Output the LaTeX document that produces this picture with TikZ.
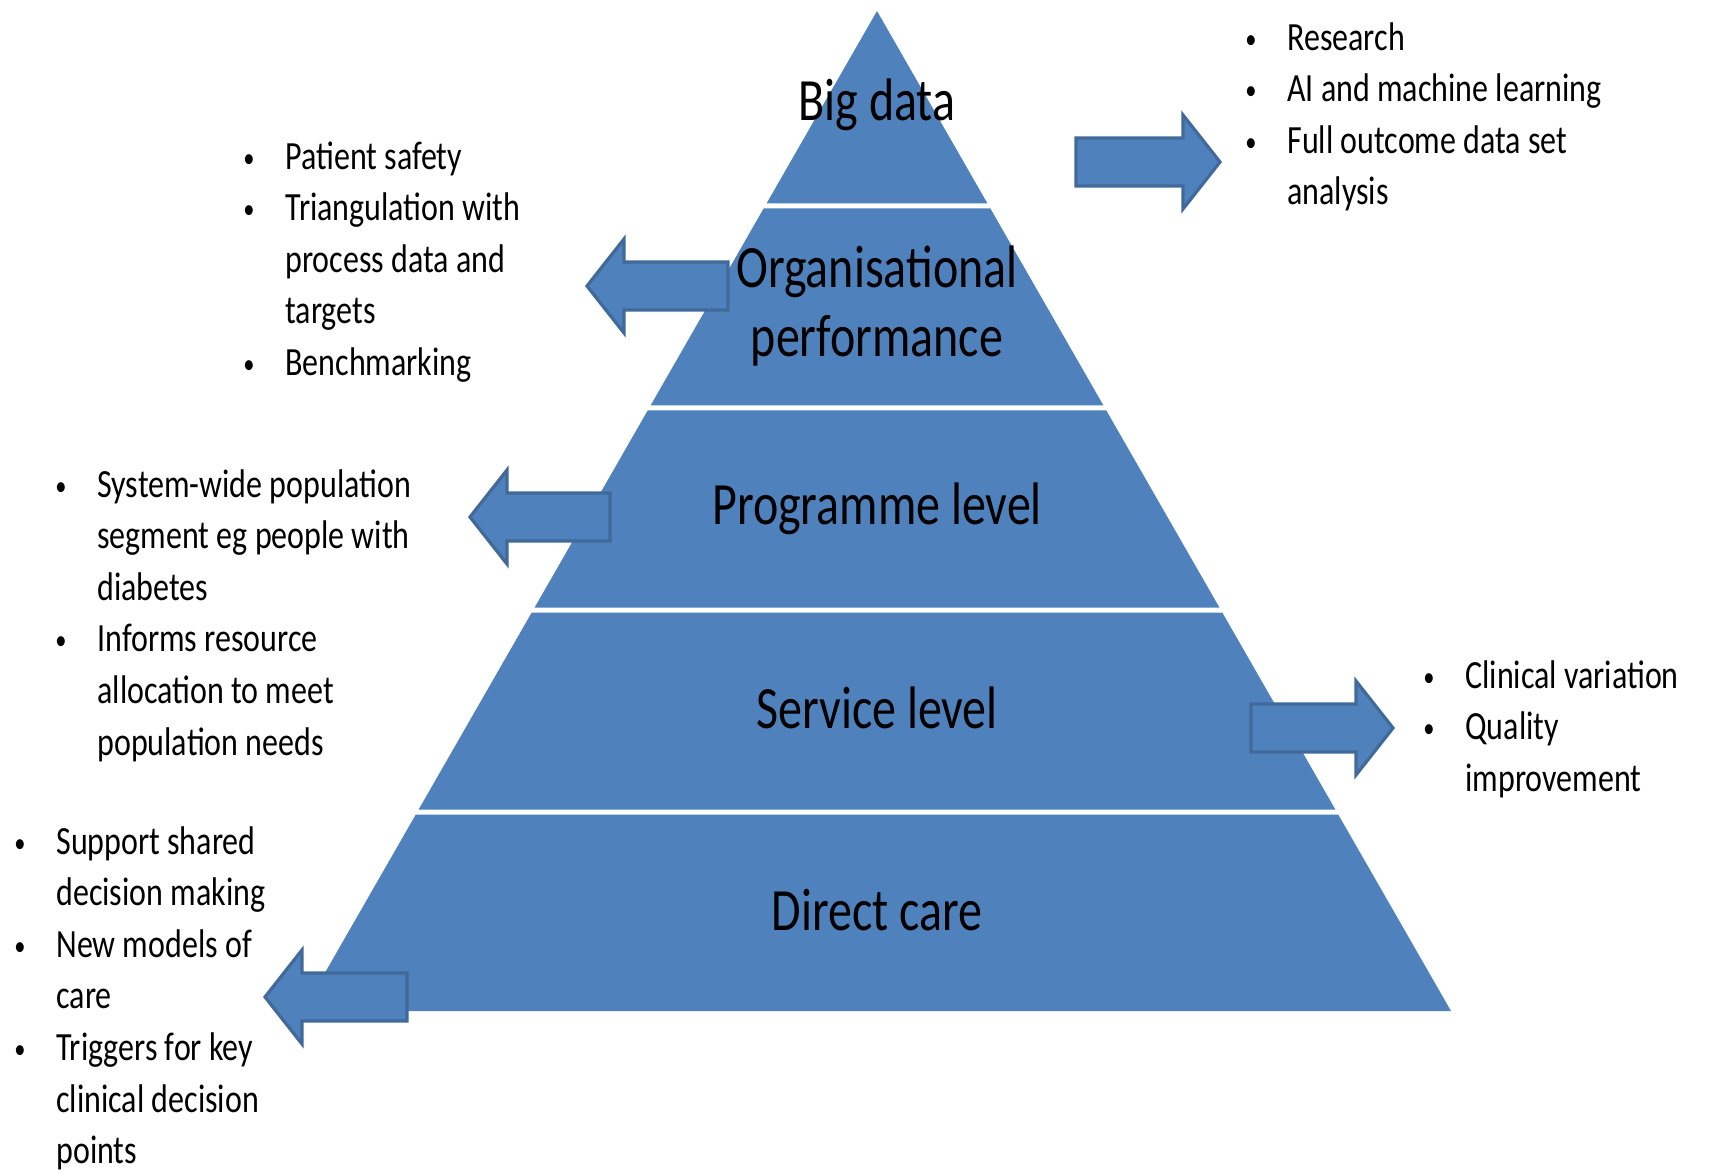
\documentclass[tikz,border=0pt]{standalone}
\usepackage{fontspec}
\setmainfont{Carlito}[FakeStretch=0.8]
\definecolor{tierblue}{HTML}{4F81BD}
\definecolor{arrowedge}{HTML}{41699A}
\newcommand{\bul}{\makebox[21pt][l]{\raisebox{1pt}{\fontsize{14}{14}\selectfont\textbullet}}}
\newcommand{\ind}{\hspace*{21pt}}

\begin{document}
\begin{tikzpicture}[x=0.5pt, y=-0.5pt,
	tier/.style={font=\fontsize{30}{34.5}\selectfont, align=center, inner sep=0pt},
	note/.style={font=\fontsize{20}{25.8}\selectfont, align=left, anchor=north west, inner sep=0pt},
	flow/.style={draw=arrowedge, line width=1.6pt, fill=tierblue, line join=miter}]
	\useasboundingbox (0,0) rectangle (1713,1176);
	%% Tiers
	\foreach \ya/\yb in {11/203.5, 208.5/405.5, 410.5/607.5, 612.5/809.5, 814.5/1011}
		\fill [tierblue] ({877-0.574*(\ya-11)},\ya) -- ({877+0.574*(\ya-11)},\ya)
			-- ({877+0.574*(\yb-11)},\yb) -- ({877-0.574*(\yb-11)},\yb) -- cycle;
	%% Arrows (tip, direction, body length)
	\foreach \tx/\ty/\d/\len in {1220/162/1/107, 587/286/-1/104, 470/517/-1/103, 1393/728/1/105, 265/997/-1/105}
		\draw [flow] (\tx,\ty) -- ++({-37*\d},-47) -- ++(0,23) -- ++({-\len*\d},0)
			-- ++(0,48) -- ++({\len*\d},0) -- ++(0,23) -- cycle;
	%% Labels
	\node [tier] at (877,105) (bigdata) {Big data};
	\node [tier] at (877,306) (orgperf) {Organisational\\performance};
	\node [tier] at (877,509) (programme) {Programme level};
	\node [tier] at (877,708) (service) {Service level};
	\node [tier] at (877,910) (direct) {Direct care};
	%% Notes
	\node [note] at (1245,22) (bigdatanotes) {\bul Research\\\bul AI and machine learning\\\bul Full outcome data set\\\ind analysis};
	\node [note] at (243,141) (orgperfnotes) {\bul Patient safety\\\bul Triangulation with\\\ind process data and\\\ind targets\\\bul Benchmarking};
	\node [note] at (55,469) (programmenotes) {\bul System-wide population\\\ind segment eg people with\\\ind diabetes\\\bul Informs resource\\\ind allocation to meet\\\ind population needs};
	\node [note] at (1423,660) (servicenotes) {\bul Clinical variation\\\bul Quality\\\ind improvement};
	\node [note] at (14,826) (directnotes) {\bul Support shared\\\ind decision making\\\bul New models of\\\ind care\\\bul Triggers for key\\\ind clinical decision\\\ind points};
\end{tikzpicture}
\end{document}
